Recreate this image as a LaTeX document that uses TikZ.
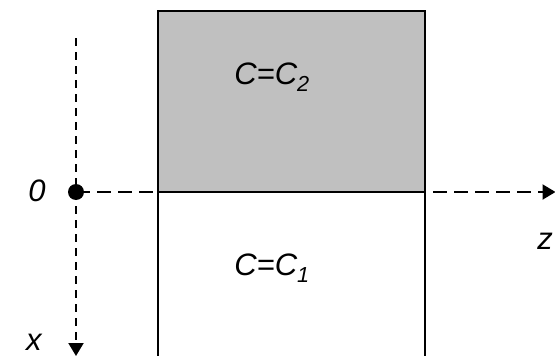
\documentclass[tikz,border=0pt]{standalone}
\usepackage{fontspec}
\setmainfont{Liberation Sans}
\usetikzlibrary{arrows.meta}
\begin{document}
\begin{tikzpicture}[x=1pt,y=-1pt,
  lbl/.style={font=\fontsize{31}{36}\selectfont\itshape, inner sep=0pt},
  hdsh/.style={line width=2.2pt, dash pattern=on 14pt off 7pt},
  vdsh/.style={line width=2.2pt, dash pattern=on 8pt off 6pt},
  tip/.style={-{Triangle[length=13pt,width=15pt]}},
  wall/.style={line width=2.2pt}]
\useasboundingbox (0,0) rectangle (555,356);
\begin{scope}
\clip (0,0) rectangle (555,356);
\fill[fill={rgb,255:red,192;green,192;blue,192}] (158,11) rectangle (425,192);
\draw[wall] (158,380) -- (158,11) -- (425,11) -- (425,380);
\draw[wall] (158,192) -- (425,192);
\end{scope}
\coordinate (o) at (76,192);
\coordinate (top) at (76,38);
\coordinate (zend) at (555.5,192);
\coordinate (xend) at (76,356);
\draw[vdsh] (top) -- (o);
\draw[hdsh, tip] (o) -- (zend);
\draw[vdsh, tip] (o) -- (xend);
\fill (o) circle (8pt);
\node[lbl] (zero) at (37,191) {0};
\node[lbl] (zl) at (545,241) {z};
\node[lbl] (xl) at (34,342) {x};
\node[lbl] (c2) at (272,77) {C=C\textsubscript{2}};
\node[lbl] (c1) at (272,268) {C=C\textsubscript{1}};
\end{tikzpicture}
\end{document}
